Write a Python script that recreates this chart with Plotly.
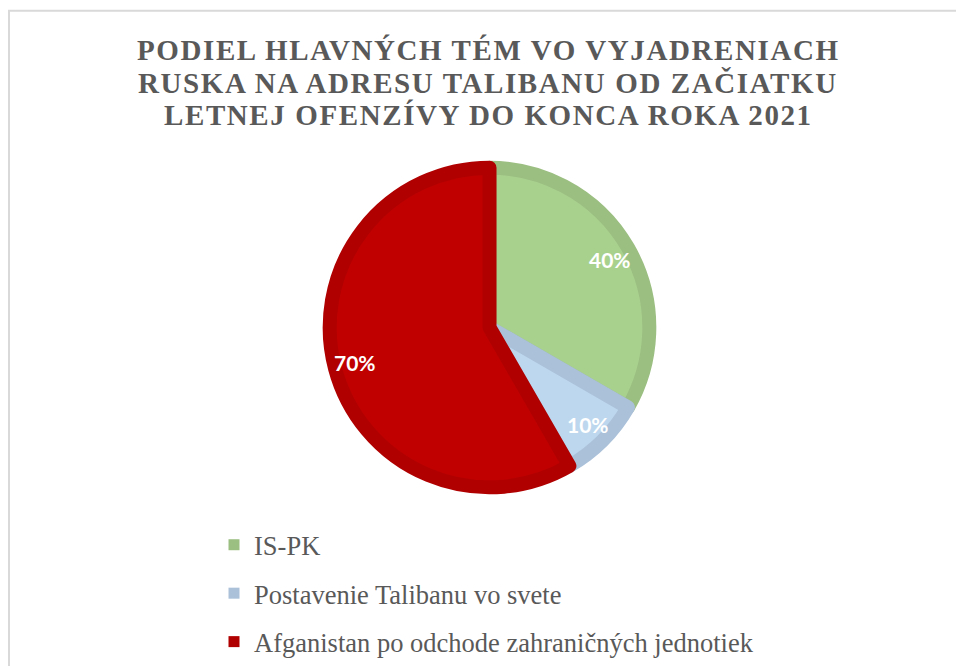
import math
import plotly.graph_objects as go

# data
temy = ['IS-PK', 'Postavenie Talibanu vo svete', 'Afganistan po odchode zahraničných jednotiek']
hodnoty = [40, 10, 70]
farby = ['#A9D18E', '#BDD7EE', '#C00000']
okraje = ['#9BBE81', '#AAC1D9', '#B00000']

nadpis_riadky = ['PODIEL HLAVNÝCH TÉM VO VYJADRENIACH',
                 'RUSKA NA ADRESU TALIBANU OD ZAČIATKU',
                 'LETNEJ OFENZÍVY DO KONCA ROKA 2021']

W, H = 956, 666
cx, cy, r = 489.5, 333, 162.5

fig = go.Figure()

fig.add_trace(go.Pie(
    labels=temy, values=hodnoty, sort=False, direction='clockwise', rotation=0,
    marker=dict(colors=farby, line=dict(color=okraje, width=14)),
    textinfo='none',
    domain=dict(x=[(cx - r) / W, (cx + r) / W], y=[1 - (cy + r) / H, 1 - (cy - r) / H]),
    showlegend=False, hoverinfo='label+value',
))

# value labels placed near the rim, like Excel does
spolu = sum(hodnoty)
kum = 0
popisky = []
for v in hodnoty:
    stred = (kum + v / 2) / spolu * 2 * math.pi
    kum += v
    rr = 0.82 * (r + 7)
    popisky.append(dict(
        x=(cx + rr * math.sin(stred)) / W, y=1 - (cy - rr * math.cos(stred)) / H,
        xref='paper', yref='paper', text=f'{v}%', showarrow=False,
        font=dict(family='Lato', size=21, color='white', weight='bold'),
    ))

# title, one annotation per line (tight line spacing as in the original)
for i, s in enumerate(nadpis_riadky):
    popisky.append(dict(
        x=488 / W, y=1 - (51 + 33 * i) / H, xref='paper', yref='paper',
        xanchor='center', yanchor='middle', showarrow=False,
        text=f'<span style="letter-spacing:1.6px">{s}</span>',
        font=dict(family='Liberation Serif', size=29, color='#595959', weight='bold'),
    ))

# legend entries (square markers), one group each so the rows can be spaced
for t, c in zip(temy, okraje):
    fig.add_trace(go.Scatter(
        x=[None], y=[None], mode='markers', name=t, legendgroup=t,
        marker=dict(symbol='square', size=11, color=c),
    ))

fig.update_layout(
    width=W, height=H,
    margin=dict(l=0, r=0, t=0, b=0),
    paper_bgcolor='white', plot_bgcolor='white',
    xaxis=dict(visible=False), yaxis=dict(visible=False),
    legend=dict(x=214 / W, y=1 - 530 / H, xanchor='left', yanchor='top',
                font=dict(family='Liberation Serif', size=26.5, color='#595959'),
                tracegroupgap=11, bgcolor='rgba(0,0,0,0)'),
    annotations=popisky,
    shapes=[dict(type='rect', xref='paper', yref='paper',
                 x0=9 / W, x1=1.02, y0=-0.02, y1=1 - 11 / H,
                 line=dict(color='#D9D9D9', width=2))],
)

fig.write_html('out.html', config={'displayModeBar': False},
               post_script="document.body.style.margin='0';")
